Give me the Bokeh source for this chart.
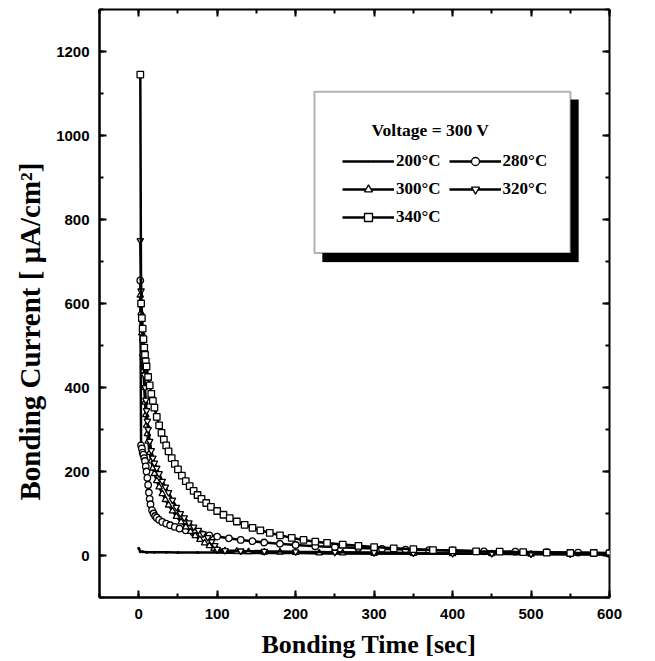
from bokeh.plotting import figure
from bokeh.models import (LinearAxis, SingleIntervalTicker, Range1d, Legend, LegendItem,
                          BoxAnnotation, Label, Title)
from bokeh.embed import file_html
from bokeh.resources import INLINE

# ---------------- data ----------------
t200 = [0, 2, 5, 10, 20, 35, 50, 75, 100, 130, 160, 200, 250, 300, 350, 400, 450, 500, 550, 600]
i200 = [17, 9, 9, 8, 8, 8, 7, 7, 7, 6, 6, 6, 5, 5, 5, 4, 4, 4, 3, 3]

t280 = [2, 3, 4, 5, 6, 7, 8, 9, 10, 11, 12, 13, 14, 15, 17, 19, 21, 23, 26, 30, 35, 40, 46, 52, 60,
        70, 80, 90, 100, 115, 130, 145, 160, 180, 200, 225, 250, 280, 310, 340, 370, 400, 440, 480,
        520, 560, 600]
i280 = [655, 262, 255, 245, 240, 232, 225, 212, 200, 185, 168, 150, 135, 122, 108, 100, 94, 90, 85,
        80, 76, 72, 68, 64, 60, 55, 51, 48, 45, 41, 37, 34, 31, 28, 25, 22, 20, 18, 16, 14, 13, 12,
        10, 9, 8, 7, 6]

t300 = [2, 3, 4, 5, 6, 7, 8, 9, 10, 11, 12, 14, 16, 18, 20, 23, 26, 30, 34, 38, 43, 48, 54, 60, 66,
        72, 78, 84, 90, 96, 100, 110, 125, 140, 160, 180, 200, 230, 260, 300, 350, 400, 450, 500,
        550, 600]
i300 = [620, 578, 530, 480, 440, 400, 365, 335, 310, 290, 272, 245, 225, 208, 195, 178, 163, 147,
        133, 120, 106, 93, 80, 68, 57, 47, 38, 30, 23, 17, 13, 11, 10, 9, 8, 8, 7, 6, 6, 5, 5, 4, 4,
        3, 3, 3]

t320 = [2, 3, 4, 5, 6, 7, 8, 9, 10, 11, 12, 14, 16, 18, 20, 23, 26, 30, 34, 38, 43, 48, 53, 58, 64,
        70, 76, 82, 88, 93, 97, 100, 110, 130, 160, 200, 250, 300, 350, 400, 450, 500, 550, 600]
i320 = [750, 630, 560, 510, 463, 430, 400, 370, 345, 320, 300, 272, 250, 232, 220, 208, 195, 177,
        163, 150, 132, 115, 100, 90, 78, 68, 60, 52, 43, 33, 24, 15, 12, 11, 10, 9, 8, 7, 6, 5, 5,
        4, 4, 3]

t340 = [2, 3, 4, 5, 6, 7, 8, 9, 10, 12, 14, 16, 18, 20, 23, 26, 29, 32, 35, 38, 42, 46, 50, 55, 60,
        65, 70, 75, 80, 86, 92, 100, 108, 116, 125, 135, 145, 155, 167, 180, 195, 210, 225, 240,
        260, 280, 300, 325, 350, 375, 400, 430, 460, 490, 520, 550, 580, 600]
i340 = [1145, 600, 565, 540, 515, 495, 478, 462, 450, 425, 405, 385, 368, 352, 330, 310, 292, 276,
        262, 248, 232, 218, 205, 190, 177, 165, 154, 144, 135, 125, 116, 106, 97, 89, 81, 73, 66,
        60, 54, 48, 42, 37, 33, 30, 26, 23, 20, 17, 15, 13, 12, 10, 9, 8, 7, 6, 6, 5]

series_labels = ["200°C", "280°C", "300°C", "320°C", "340°C"]
series_markers = ["dot", "circle", "triangle", "inverted_triangle", "square"]
series_t = [t200, t280, t300, t320, t340]
series_i = [i200, i280, i300, i320, i340]

title_text = "Voltage = 300 V"
x_label = "Bonding Time [sec]"
y_label = "Bonding Current [ μA/cm²]"

SERIF = "Liberation Serif"
SANS = "Liberation Sans"

p = figure(frame_width=510, frame_height=588, output_backend="svg", toolbar_location=None,
           x_range=Range1d(-50, 600), y_range=Range1d(-100, 1300),
           min_border_left=99, min_border_top=9, min_border_right=28, min_border_bottom=2)
p.background_fill_color = "white"
p.border_fill_color = "white"
p.grid.visible = False
p.outline_line_color = "black"
p.outline_line_width = 2

p.xaxis.ticker = SingleIntervalTicker(interval=100, num_minor_ticks=2)
p.yaxis.ticker = SingleIntervalTicker(interval=200, num_minor_ticks=2)

for ax in (p.xaxis[0], p.yaxis[0]):
    ax.axis_line_width = 2
    ax.major_tick_in = 7
    ax.major_tick_out = 0
    ax.minor_tick_in = 4
    ax.minor_tick_out = 0
    ax.major_tick_line_width = 2
    ax.minor_tick_line_width = 2
    ax.major_label_text_font = SANS
    ax.major_label_text_font_style = "bold"
    ax.major_label_text_font_size = "15px"
    ax.major_label_text_color = "black"

p.xaxis.major_label_standoff = 11
p.yaxis.major_label_standoff = 10

# axis titles as side titles (placed off-centre like the reference)
y_title = Title(text=y_label, align="left", offset=97, standoff=16, text_font=SERIF,
                text_font_style="bold", text_font_size="29px", text_color="black")
x_title = Title(text=x_label, align="left", offset=162, standoff=12, text_font=SERIF,
                text_font_style="bold", text_font_size="26px", text_color="black")
p.add_layout(y_title, "left")
p.add_layout(x_title, "below")

# mirrored axes (ticks only, no labels)
top_ax = LinearAxis(ticker=SingleIntervalTicker(interval=100, num_minor_ticks=2))
right_ax = LinearAxis(ticker=SingleIntervalTicker(interval=200, num_minor_ticks=2))
top_ax.major_label_overrides = {v: "" for v in range(-100, 701, 100)}
right_ax.major_label_overrides = {v: "" for v in range(-200, 1401, 200)}
for ax in (top_ax, right_ax):
    ax.axis_line_color = None
    ax.major_tick_in = 7
    ax.major_tick_out = 0
    ax.minor_tick_in = 4
    ax.minor_tick_out = 0
    ax.major_tick_line_width = 2
    ax.minor_tick_line_width = 2
    ax.major_label_standoff = 0
p.add_layout(top_ax, "above")
p.add_layout(right_ax, "right")

items = {}
for lab, mk, tt, ii in zip(series_labels, series_markers, series_t, series_i):
    lr = p.line(tt, ii, line_color="black", line_width=2.5)
    if mk == "dot":
        sr = p.scatter(tt, ii, marker="dot", size=12, fill_color="black", line_color="black")
    else:
        sr = p.scatter(tt, ii, marker=mk, size=6.5, fill_color="white", line_color="black",
                       line_width=1.3)
    items[lab] = LegendItem(label=lab, renderers=[lr, sr])

# legend box with drop shadow
shadow = BoxAnnotation(left=234.2, right=560.5, top=1085.4, bottom=699, fill_color="black",
                       fill_alpha=1, line_color="black")
box = BoxAnnotation(left=224.0, right=550.3, top=1104.4, bottom=720.5, fill_color="white",
                    fill_alpha=1, line_color="black", line_width=2)
p.add_layout(shadow)
p.add_layout(box)

p.add_layout(Label(x=296.7, y=1013.8, text=title_text, text_font=SERIF, text_font_style="bold",
                   text_font_size="17.5px", text_baseline="middle", text_color="black"))

# column-major order -> rows: 200/280, 300/320, 340
legend = Legend(items=[items["200°C"], items["300°C"], items["340°C"], items["280°C"], items["320°C"]],
                ncols=2, location=(243, 370), padding=0, margin=0, spacing=8,
                glyph_width=52, glyph_height=20, label_height=20, label_standoff=2,
                label_text_font=SERIF, label_text_font_style="bold", label_text_font_size="17px",
                label_text_color="black", background_fill_alpha=0, border_line_alpha=0)
p.add_layout(legend, "center")

open("out.html", "w").write(file_html(p, INLINE))
